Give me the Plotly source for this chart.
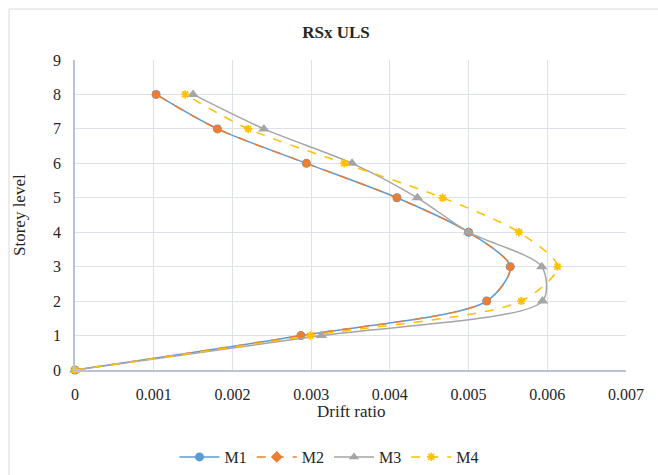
import plotly.graph_objects as go

levels = [0, 1, 2, 3, 4, 5, 6, 7, 8]
m1 = [0, 0.00287, 0.00523, 0.00553, 0.00500, 0.00409, 0.00294, 0.00181, 0.00103]
m2 = [0, 0.00287, 0.00523, 0.00553, 0.00500, 0.00409, 0.00294, 0.00181, 0.00103]
m3 = [0, 0.00313, 0.00594, 0.00593, 0.00500, 0.00435, 0.00352, 0.00240, 0.00150]
m4 = [0, 0.00299, 0.00567, 0.00613, 0.00564, 0.00467, 0.00342, 0.00220, 0.00140]

x_ticks = [0, 0.001, 0.002, 0.003, 0.004, 0.005, 0.006, 0.007]
x_tick_text = ["0", "0.001", "0.002", "0.003", "0.004", "0.005", "0.006", "0.007"]
y_ticks = [0, 1, 2, 3, 4, 5, 6, 7, 8, 9]

FONT = "Liberation Serif"
TXT = "#262626"
L, R, T, B = 75, 32, 60, 105
W, H = 658, 475
PW, PH = W - L - R, H - T - B
SM = 0.8

fig = go.Figure()
fig.add_trace(go.Scatter(x=m1, y=levels, name="M1", mode="lines+markers",
                         line=dict(color="#5B9BD5", width=1.5, shape="spline", smoothing=SM),
                         marker=dict(symbol="circle", size=9, color="#5B9BD5"),
                         cliponaxis=False))
fig.add_trace(go.Scatter(x=m2, y=levels, name="M2", mode="lines+markers",
                         line=dict(color="#ED7D31", width=1.5, dash="dash", shape="spline", smoothing=SM),
                         marker=dict(symbol="circle", size=8, color="#ED7D31"),
                         showlegend=False, cliponaxis=False))
fig.add_trace(go.Scatter(x=m3, y=levels, name="M3", mode="lines+markers",
                         line=dict(color="#A5A5A5", width=1.5, shape="spline", smoothing=SM),
                         marker=dict(symbol="triangle-up", size=10, color="#A5A5A5"),
                         showlegend=False, cliponaxis=False))
fig.add_trace(go.Scatter(x=m4, y=levels, name="M4", mode="lines+markers",
                         line=dict(color="#FFC000", width=1.5, dash="dash", shape="spline", smoothing=SM),
                         marker=dict(symbol="asterisk-open", size=7, color="#FFC000",
                                     line=dict(color="#FFC000", width=1.8)),
                         showlegend=False, cliponaxis=False))

# legend-only entries (Excel legend symbols)
fig.add_trace(go.Scatter(x=[None], y=[None], name="M2", mode="lines+markers",
                         line=dict(color="#ED7D31", width=1.5, dash="dash"),
                         marker=dict(symbol="diamond", size=9, color="#ED7D31")))
fig.add_trace(go.Scatter(x=[None], y=[None], name="M3", mode="lines+markers",
                         line=dict(color="#A5A5A5", width=1.5),
                         marker=dict(symbol="triangle-up", size=9, color="#A5A5A5")))
fig.add_trace(go.Scatter(x=[None], y=[None], name="M4", mode="lines+markers",
                         line=dict(color="#FFC000", width=1.5, dash="dash"),
                         marker=dict(symbol="asterisk-open", size=7, color="#FFC000",
                                     line=dict(color="#FFC000", width=1.8))))

fig.update_layout(
    width=W, height=H,
    margin=dict(l=L, r=R, t=T, b=B, autoexpand=False),
    paper_bgcolor="white", plot_bgcolor="white",
    font=dict(family=FONT, size=16, color=TXT),
    title=dict(text="<b>RSx ULS</b>", x=336 / W, xanchor="center",
               y=1 - 32 / H, yanchor="middle",
               font=dict(family=FONT, size=17, color=TXT)),
    xaxis=dict(range=[0, 0.007], tickvals=x_ticks, ticktext=x_tick_text,
               showgrid=True, gridcolor="#DDE2EA", gridwidth=1,
               showline=True, linecolor="#B8C3D3", linewidth=1.5,
               zeroline=False, ticks="", ticklabelstandoff=9,
               tickfont=dict(family=FONT, size=16, color=TXT)),
    yaxis=dict(range=[0, 9], tickvals=y_ticks,
               showgrid=True, gridcolor="#DDE2EA", gridwidth=1,
               showline=True, linecolor="#B8C3D3", linewidth=1.5,
               zeroline=False, ticks="", ticklabelstandoff=9,
               tickfont=dict(family=FONT, size=16, color=TXT)),
    legend=dict(orientation="h", x=0.5, xref="container", xanchor="center",
                y=1 - 457 / H, yref="container", yanchor="middle",
                font=dict(family=FONT, size=16, color=TXT),
                traceorder="normal", itemwidth=40),
    showlegend=True,
)

fig.add_annotation(text="Drift ratio", xref="paper", yref="paper",
                   x=0.5, y=(370 - 411) / PH, showarrow=False,
                   xanchor="center", yanchor="middle",
                   font=dict(family=FONT, size=17, color=TXT))
fig.add_annotation(text="Storey level", xref="paper", yref="paper",
                   x=(19 - L) / PW, y=0.5, showarrow=False,
                   textangle=-90, xanchor="center", yanchor="middle",
                   font=dict(family=FONT, size=17, color=TXT))

fig.add_shape(type="rect", xref="paper", yref="paper",
              x0=(9 - L) / PW, x1=(700 - L) / PW,
              y0=(370 - 9) / PH, y1=(370 - 490) / PH,
              line=dict(color="#D9D9D9", width=1), layer="below")

fig.write_html("out.html")
